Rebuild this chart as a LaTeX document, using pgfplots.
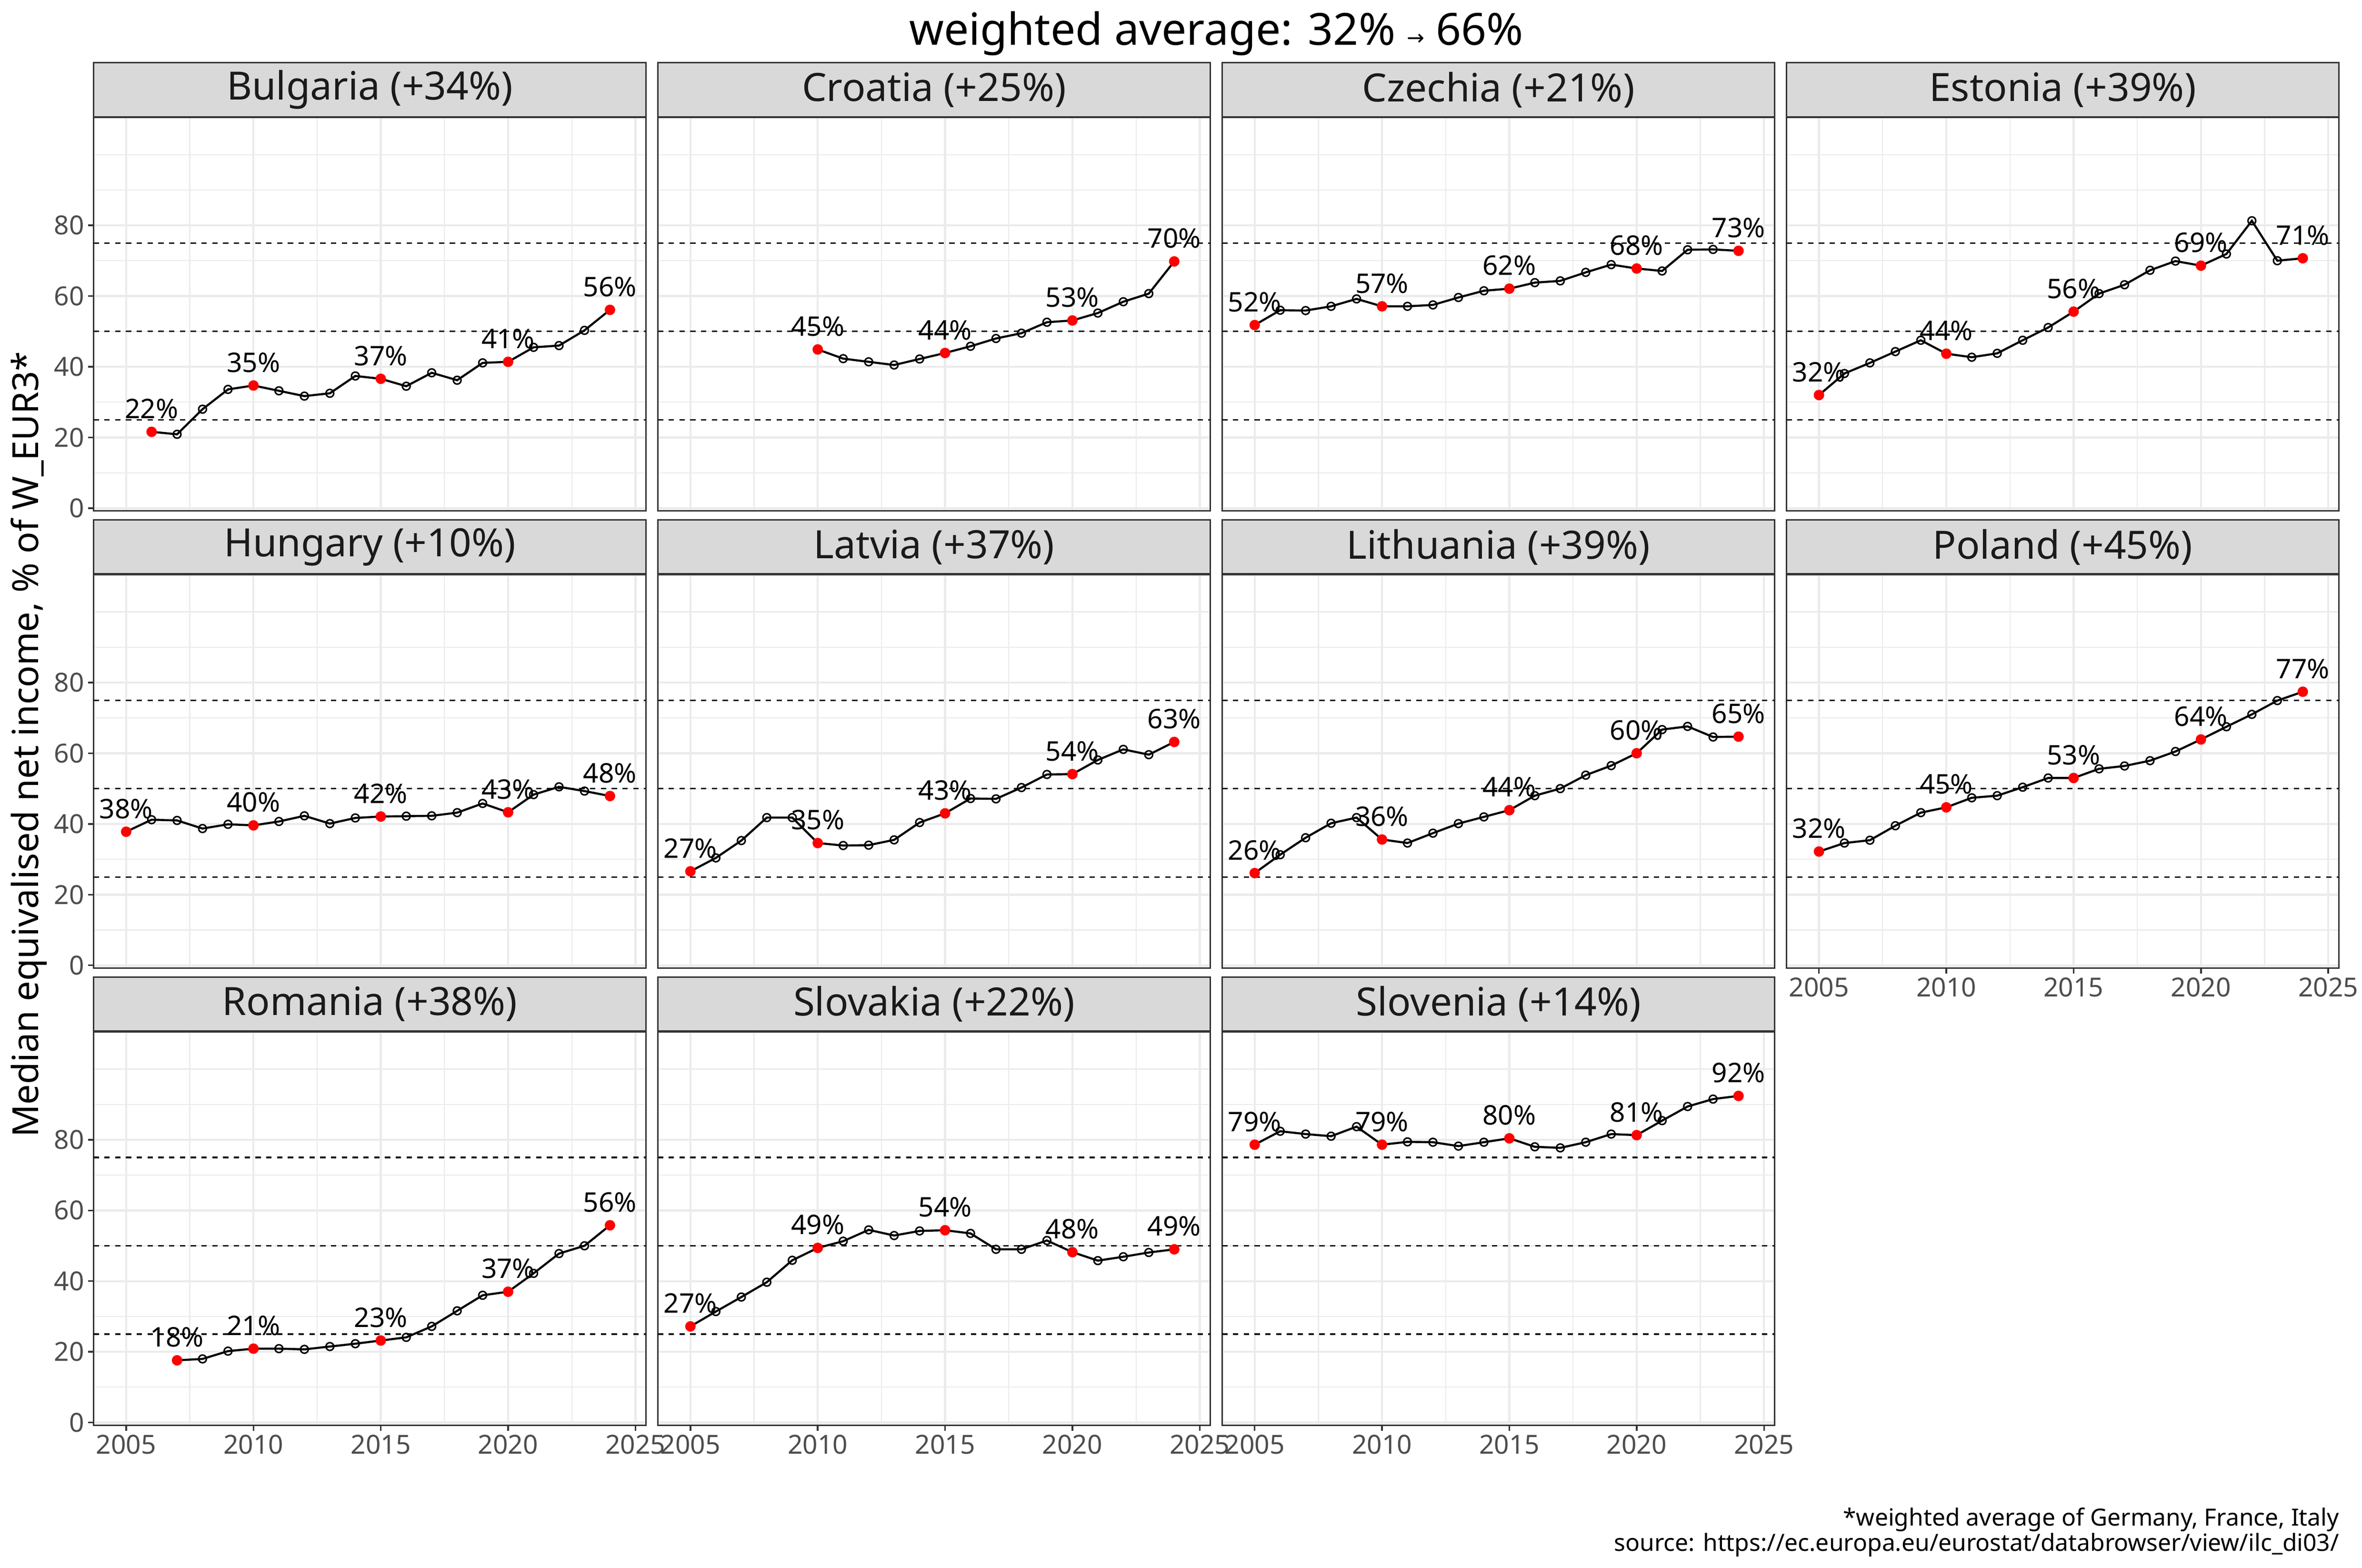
\documentclass[border=0pt]{standalone}
\usepackage{pgfplots}
\pgfplotsset{compat=1.18}
\usepackage{fontspec}
\setmainfont{Noto Sans}
\newfontfamily\dejavu{DejaVu Sans}
\definecolor{gridc}{HTML}{EBEBEB}
\definecolor{g20}{HTML}{333333}
\definecolor{g30}{HTML}{4D4D4D}
\definecolor{g85}{HTML}{D9D9D9}
\definecolor{g10}{HTML}{1A1A1A}
\pgfplotsset{
  every axis title shift=0pt,
  panel/.style={
    scale only axis, width=368.6pt, height=262.4pt,
    xmin=2003.72, xmax=2025.42, ymin=-0.8, ymax=110.5,
    xtick={2005,2010,2015,2020,2025},
    minor xtick={2007.5,2012.5,2017.5,2022.5},
    ytick={0,20,40,60,80},
    minor ytick={10,30,50,70,90,100},
    grid=both,
    major grid style={color=gridc, line width=1.4pt},
    minor grid style={color=gridc, line width=0.7pt},
    axis line style={g20, line width=1pt},
    tick style={g20, line width=1.1pt},
    major tick length=3.6pt, minor tick length=0pt,
    tick align=outside,
    ticklabel style={font=\fontsize{17.5}{20}\selectfont, text=g30, inner sep=2.5pt},
    extra y ticks={25,50,75}, extra y tick labels={},
    extra y tick style={grid=major, major tick length=0pt,
      major grid style={black!90, line width=1pt, dash pattern=on 3.6pt off 3.6pt}},
    every axis title shift=0pt,
    title style={at={(0.5,1)}, anchor=south, yshift=0pt, inner sep=0pt,
      minimum width=368.6pt, minimum height=36pt, fill=g85, draw=g20,
      line width=1pt, text=g10, font=\fontsize{26}{29}\selectfont},
    clip=false,
    anchor=north west,
  },
  ylab/.style={yticklabels={0,20,40,60,80}, ytick pos=left},
  noylab/.style={yticklabels={}, ytick style={draw=none}},
  xlab/.style={xticklabels={2005,2010,2015,2020,2025}, xtick pos=lower},
  noxlab/.style={xticklabels={}, xtick style={draw=none}},
  series/.style={black, line width=1.4pt, mark=o, mark size=2.6pt,
    mark options={line width=1pt, fill=none, solid}},
  keypts/.style={only marks, mark=*, mark size=3.3pt,
    mark options={fill=red, draw=red, line width=0.4pt},
    nodes near coords, point meta=explicit symbolic,
    every node near coord/.append style={anchor=base, yshift=8.9pt,
      inner sep=0pt, font=\fontsize{18}{18}\selectfont, text=black}},
}
\begin{document}
\begin{tikzpicture}[x=1pt,y=1pt]
\path[fill=white] (0,0) rectangle (1568,-1045.5);
\node[anchor=base, font=\fontsize{29.5}{32}\selectfont] at (811.3,-30)
  {weighted average: 32\% {\dejavu\fontsize{14}{14}\selectfont →} 66\%};
\node[anchor=base, rotate=90, font=\fontsize{24}{26}\selectfont] at (25.5,-496.5)
  {Median equivalised net income, \% of W\_EUR3*};
\node[anchor=base east, font=\fontsize{15.8}{17}\selectfont, inner sep=0pt] at (1560.5,-1017.6)
  {*weighted average of Germany, France, Italy};
\node[anchor=base east, font=\fontsize{15.8}{17}\selectfont, inner sep=0pt] at (1560.5,-1034.5)
  {source: https://ec.europa.eu/eurostat/databrowser/view/ilc\_di03/};

% Row 1
\begin{axis}[panel, ylab, noxlab, at={(62.4pt,-78.4pt)}, title={Bulgaria (+34\%)}]
\addplot[series] coordinates {(2006,21.6) (2007,20.9) (2008,28.0) (2009,33.6) (2010,34.7) (2011,33.2) (2012,31.7) (2013,32.5) (2014,37.4) (2015,36.6) (2016,34.5) (2017,38.3) (2018,36.2) (2019,41.1) (2020,41.4) (2021,45.5) (2022,46.0) (2023,50.3) (2024,56.1)};
\addplot[keypts] coordinates {(2006,21.6) [22\%] (2010,34.7) [35\%] (2015,36.6) [37\%] (2020,41.4) [41\%] (2024,56.1) [56\%]};
\end{axis}
\begin{axis}[panel, noylab, noxlab, at={(438.8pt,-78.4pt)}, title={Croatia (+25\%)}]
\addplot[series] coordinates {(2010,44.9) (2011,42.3) (2012,41.4) (2013,40.5) (2014,42.2) (2015,43.9) (2016,45.8) (2017,48.0) (2018,49.5) (2019,52.6) (2020,53.1) (2021,55.2) (2022,58.4) (2023,60.7) (2024,69.8)};
\addplot[keypts] coordinates {(2010,44.9) [45\%] (2015,43.9) [44\%] (2020,53.1) [53\%] (2024,69.8) [70\%]};
\end{axis}
\begin{axis}[panel, noylab, noxlab, at={(815.2pt,-78.4pt)}, title={Czechia (+21\%)}]
\addplot[series] coordinates {(2005,51.8) (2006,56.0) (2007,55.9) (2008,57.1) (2009,59.2) (2010,57.1) (2011,57.1) (2012,57.5) (2013,59.6) (2014,61.5) (2015,62.1) (2016,63.8) (2017,64.3) (2018,66.7) (2019,68.9) (2020,67.8) (2021,67.1) (2022,73.1) (2023,73.2) (2024,72.8)};
\addplot[keypts] coordinates {(2005,51.8) [52\%] (2010,57.1) [57\%] (2015,62.1) [62\%] (2020,67.8) [68\%] (2024,72.8) [73\%]};
\end{axis}
\begin{axis}[panel, noylab, noxlab, at={(1191.6pt,-78.4pt)}, title={Estonia (+39\%)}]
\addplot[series] coordinates {(2005,32.0) (2006,38.1) (2007,41.1) (2008,44.3) (2009,47.5) (2010,43.7) (2011,42.7) (2012,43.8) (2013,47.5) (2014,51.1) (2015,55.6) (2016,60.7) (2017,63.2) (2018,67.3) (2019,69.9) (2020,68.6) (2021,71.9) (2022,81.3) (2023,70.0) (2024,70.7)};
\addplot[keypts] coordinates {(2005,32.0) [32\%] (2010,43.7) [44\%] (2015,55.6) [56\%] (2020,68.6) [69\%] (2024,70.7) [71\%]};
\end{axis}

% Row 2
\begin{axis}[panel, ylab, noxlab, at={(62.4pt,-383.3pt)}, title={Hungary (+10\%)}]
\addplot[series] coordinates {(2005,37.8) (2006,41.2) (2007,41.0) (2008,38.7) (2009,39.9) (2010,39.6) (2011,40.7) (2012,42.3) (2013,40.1) (2014,41.7) (2015,42.1) (2016,42.2) (2017,42.3) (2018,43.2) (2019,45.8) (2020,43.3) (2021,48.3) (2022,50.5) (2023,49.3) (2024,47.9)};
\addplot[keypts] coordinates {(2005,37.8) [38\%] (2010,39.6) [40\%] (2015,42.1) [42\%] (2020,43.3) [43\%] (2024,47.9) [48\%]};
\end{axis}
\begin{axis}[panel, noylab, noxlab, at={(438.8pt,-383.3pt)}, title={Latvia (+37\%)}]
\addplot[series] coordinates {(2005,26.6) (2006,30.4) (2007,35.3) (2008,41.8) (2009,41.8) (2010,34.6) (2011,33.9) (2012,34.0) (2013,35.5) (2014,40.4) (2015,43.0) (2016,47.2) (2017,47.1) (2018,50.3) (2019,54.0) (2020,54.1) (2021,58.1) (2022,61.1) (2023,59.6) (2024,63.2)};
\addplot[keypts] coordinates {(2005,26.6) [27\%] (2010,34.6) [35\%] (2015,43.0) [43\%] (2020,54.1) [54\%] (2024,63.2) [63\%]};
\end{axis}
\begin{axis}[panel, noylab, noxlab, at={(815.2pt,-383.3pt)}, title={Lithuania (+39\%)}]
\addplot[series] coordinates {(2005,26.1) (2006,31.3) (2007,36.1) (2008,40.2) (2009,41.8) (2010,35.6) (2011,34.6) (2012,37.4) (2013,40.1) (2014,42.0) (2015,43.9) (2016,48.0) (2017,50.0) (2018,53.8) (2019,56.5) (2020,60.0) (2021,66.7) (2022,67.6) (2023,64.6) (2024,64.7)};
\addplot[keypts] coordinates {(2005,26.1) [26\%] (2010,35.6) [36\%] (2015,43.9) [44\%] (2020,60.0) [60\%] (2024,64.7) [65\%]};
\end{axis}
\begin{axis}[panel, noylab, xlab, at={(1191.6pt,-383.3pt)}, title={Poland (+45\%)}]
\addplot[series] coordinates {(2005,32.2) (2006,34.6) (2007,35.4) (2008,39.5) (2009,43.2) (2010,44.7) (2011,47.4) (2012,48.0) (2013,50.4) (2014,53.0) (2015,53.0) (2016,55.6) (2017,56.4) (2018,57.9) (2019,60.5) (2020,63.9) (2021,67.5) (2022,71.0) (2023,74.9) (2024,77.4)};
\addplot[keypts] coordinates {(2005,32.2) [32\%] (2010,44.7) [45\%] (2015,53.0) [53\%] (2020,63.9) [64\%] (2024,77.4) [77\%]};
\end{axis}

% Row 3
\begin{axis}[panel, ylab, xlab, at={(62.4pt,-688.2pt)}, title={Romania (+38\%)}]
\addplot[series] coordinates {(2007,17.6) (2008,18.0) (2009,20.2) (2010,20.9) (2011,20.9) (2012,20.7) (2013,21.5) (2014,22.3) (2015,23.2) (2016,24.1) (2017,27.2) (2018,31.6) (2019,36.0) (2020,37.0) (2021,42.2) (2022,47.8) (2023,50.0) (2024,55.8)};
\addplot[keypts] coordinates {(2007,17.6) [18\%] (2010,20.9) [21\%] (2015,23.2) [23\%] (2020,37.0) [37\%] (2024,55.8) [56\%]};
\end{axis}
\begin{axis}[panel, noylab, xlab, at={(438.8pt,-688.2pt)}, title={Slovakia (+22\%)}]
\addplot[series] coordinates {(2005,27.2) (2006,31.4) (2007,35.5) (2008,39.7) (2009,45.9) (2010,49.4) (2011,51.3) (2012,54.5) (2013,52.9) (2014,54.2) (2015,54.4) (2016,53.5) (2017,49.0) (2018,49.0) (2019,51.5) (2020,48.2) (2021,45.8) (2022,46.9) (2023,48.1) (2024,49.0)};
\addplot[keypts] coordinates {(2005,27.2) [27\%] (2010,49.4) [49\%] (2015,54.4) [54\%] (2020,48.2) [48\%] (2024,49.0) [49\%]};
\end{axis}
\begin{axis}[panel, noylab, xlab, at={(815.2pt,-688.2pt)}, title={Slovenia (+14\%)}]
\addplot[series] coordinates {(2005,78.6) (2006,82.4) (2007,81.6) (2008,81.0) (2009,83.7) (2010,78.6) (2011,79.4) (2012,79.3) (2013,78.2) (2014,79.3) (2015,80.4) (2016,78.0) (2017,77.7) (2018,79.3) (2019,81.6) (2020,81.3) (2021,85.4) (2022,89.4) (2023,91.5) (2024,92.4)};
\addplot[keypts] coordinates {(2005,78.6) [79\%] (2010,78.6) [79\%] (2015,80.4) [80\%] (2020,81.3) [81\%] (2024,92.4) [92\%]};
\end{axis}
\end{tikzpicture}
\end{document}
